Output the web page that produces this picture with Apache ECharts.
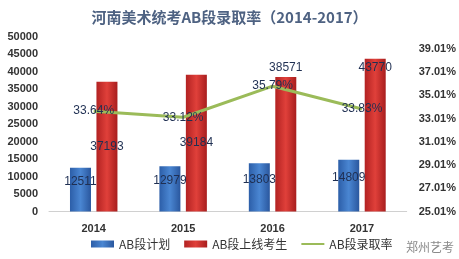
<!DOCTYPE html>
<html><head><meta charset="utf-8">
<script src="https://cdn.jsdelivr.net/npm/echarts@6/dist/echarts.min.js"></script>
<style>html,body{margin:0;padding:0;background:#fff}#c{width:459px;height:259px}</style>
</head><body><div id="c"></div>
<script>
var categories = ['2014','2015','2016','2017'];
var planValues = [12511, 12979, 13803, 14809];
var onlineValues = [37193, 39184, 38571, 43770];
var rateValues = [33.64, 33.12, 35.79, 33.83];
var onlineLabelPos = ['inside','inside','top','insideTop'];

var chart = echarts.init(document.getElementById('c'));
var labelColor = '#1f2f52';
chart.setOption({
  animation: false,
  backgroundColor: '#fff',
  title: {
    text: '河南美术统考AB段录取率（2014-2017）',
    left: 'center', top: 5,
    textStyle: {fontSize: 15, fontWeight: 'bold', color: '#4e6282', fontFamily: 'Noto Sans CJK SC'}
  },
  grid: {left: 49, right: 46, top: 37, bottom: 47.5},
  legend: {
    left: 86, bottom: 4, itemGap: 14, itemWidth: 23, itemHeight: 7,
    textStyle: {fontSize: 12, color: '#333', fontFamily: 'Noto Sans CJK SC'},
    data: [{name:'AB段计划', icon:'rect'}, {name:'AB段上线考生', icon:'rect'},
           {name:'AB段录取率', icon:'path://M0,0 L46,0 L46,4 L0,4 Z'}]
  },
  graphic: [{
    type: 'text', right: 5, bottom: 6,
    style: {text: '郑州艺考', fill: '#8a8a8a', font: '12px "Noto Sans CJK SC"'}
  }],
  xAxis: {
    type: 'category', data: categories,
    axisLine: {lineStyle: {color: '#d0d0d0'}},
    axisTick: {show: false},
    axisLabel: {fontSize: 11, fontWeight: 'bold', color: '#333', margin: 12}
  },
  yAxis: [{
    type: 'value', min: 0, max: 50000, interval: 5000,
    splitLine: {show: false}, axisLine: {show: false}, axisTick: {show: false},
    axisLabel: {fontSize: 11, fontWeight: 'bold', color: '#333', margin: 11,
      formatter: function(v){ return String(v); }}
  }, {
    type: 'value', min: 25.01, max: 40.02, interval: 2, position: 'right',
    splitLine: {show: false}, axisLine: {show: false}, axisTick: {show: false},
    axisLabel: {fontSize: 11, fontWeight: 'bold', color: '#333', margin: 12, showMaxLabel: false,
      formatter: function(v){ return v.toFixed(2) + '%'; }}
  }],
  series: [{
    name: 'AB段计划', type: 'bar', barWidth: 21, barGap: '26%',
    itemStyle: {color: new echarts.graphic.LinearGradient(0,0,1,0,[
      {offset:0,color:'#2c5ea8'},{offset:0.5,color:'#4a86d2'},{offset:1,color:'#2a579e'}])},
    label: {show: true, position: 'inside', offset: [0,-8], fontSize: 12, color: labelColor},
    data: planValues
  }, {
    name: 'AB段上线考生', type: 'bar', barWidth: 21,
    itemStyle: {color: new echarts.graphic.LinearGradient(0,0,1,0,[
      {offset:0,color:'#b22222'},{offset:0.5,color:'#e0403a'},{offset:1,color:'#a81e1e'}])},
    data: onlineValues.map(function(v,i){
      return {value: v, label: {show: true, position: onlineLabelPos[i], fontSize: 12, color: labelColor,
        distance: 3}};
    })
  }, {
    name: 'AB段录取率', type: 'line', yAxisIndex: 1,
    symbol: 'circle', symbolSize: 0, showSymbol: true,
    lineStyle: {color: '#9bbb59', width: 3},
    itemStyle: {color: '#9bbb59'},
    label: {show: true, position: 'inside', fontSize: 12, color: labelColor,
      formatter: function(p){ return p.value.toFixed(2) + '%'; }},
    data: rateValues
  }]
});
</script></body></html>
